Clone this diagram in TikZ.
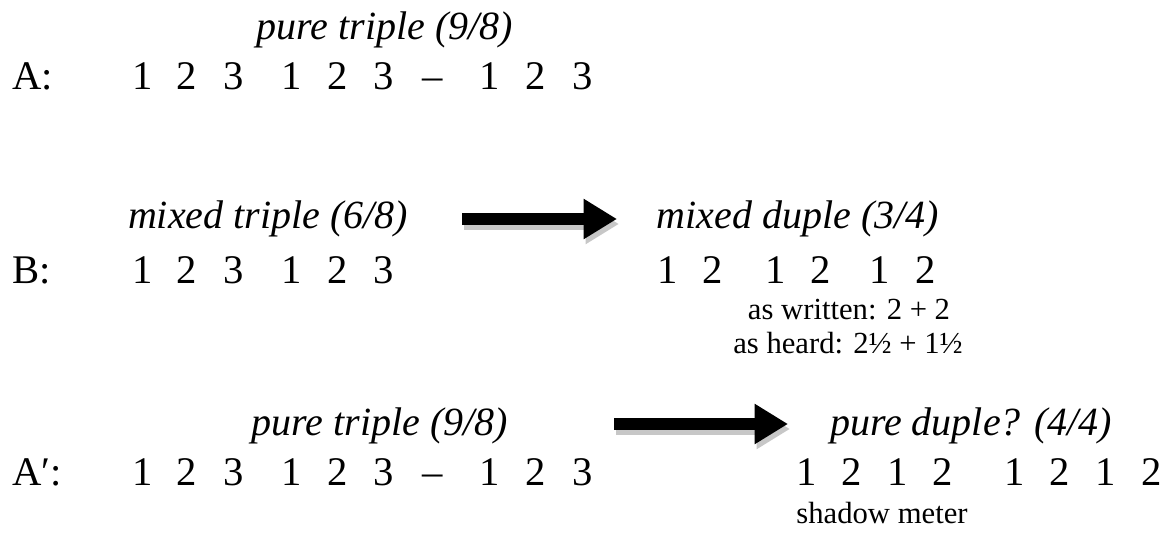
\documentclass[tikz,border=0pt]{standalone}
\usepackage{fontspec}
\setmainfont{Liberation Serif}
\usetikzlibrary{arrows.meta}
\begin{document}
\begin{tikzpicture}[x=0.75pt,y=-0.75pt,
  num/.style={anchor=base,inner sep=0pt,font=\fontsize{30.5pt}{36pt}\selectfont},
  lab/.style={anchor=base,inner sep=0pt,font=\fontsize{30pt}{36pt}\selectfont\itshape},
  rowlab/.style={anchor=base west,inner sep=0pt,font=\fontsize{30.5pt}{36pt}\selectfont},
  small/.style={anchor=base,inner sep=0pt,font=\fontsize{23pt}{28pt}\selectfont},
  bigarrow/.style={line width=9pt,line cap=butt,-{Triangle[length=25pt,width=28.5pt]}},
  shadowarrow/.style={bigarrow,draw=black!22}]
\useasboundingbox (0,0) rectangle (1175,534);
% Row A
\node[lab] (labA) at (385,40) {pure triple (9/8)};
\node[rowlab] (A) at (12,90) {A:};
\foreach \x/\t [count=\i] in {143/1,187/2,234/3,292/1,338/2,384/3,433/–,490/1,536/2,583/3}
  \node[num] (a\i) at (\x,90) {\t};
% Row B
\node[lab] (labB) at (268,229) {mixed triple (6/8)};
\node[lab] (labB2) at (798,229) {mixed duple (3/4)};
\node[rowlab] (B) at (12,284) {B:};
\foreach \x/\t [count=\i] in {143/1,187/2,234/3,292/1,338/2,384/3}
  \node[num] (b\i) at (\x,284) {\t};
\foreach \x/\t [count=\i] in {668/1,713/2,776/1,821/2,880/1,926/2}
  \node[num] (bb\i) at (\x,284) {\t};
\node[small] (wr) at (849,320) {as written: 2 + 2};
\node[small] (hd) at (848,354) {as heard: 2½ + 1½};
% Row A'
\node[lab] (labC) at (380,436) {pure triple (9/8)};
\node[lab] (labC2) at (971,436) {pure duple? (4/4)};
\node[rowlab] (C) at (12,486) {A′:};
\foreach \x/\t [count=\i] in {143/1,187/2,234/3,292/1,338/2,384/3,433/–,490/1,536/2,583/3}
  \node[num] (c\i) at (\x,486) {\t};
\foreach \x/\t [count=\i] in {807/1,852/2,898/1,943/2,1015/1,1060/2,1106/1,1152/2}
  \node[num] (cc\i) at (\x,486) {\t};
\node[small] (sh) at (882,523) {shadow meter};
% arrows
\coordinate (p1s) at (462,219);
\coordinate (p1e) at (617,219);
\coordinate (p2s) at (614,424);
\coordinate (p2e) at (788,424);
\draw[shadowarrow] ([shift={(2,5)}]p1s) -- ([shift={(2,5)}]p1e);
\draw[bigarrow] (p1s) -- (p1e);
\draw[shadowarrow] ([shift={(2,5)}]p2s) -- ([shift={(2,5)}]p2e);
\draw[bigarrow] (p2s) -- (p2e);
\end{tikzpicture}
\end{document}
